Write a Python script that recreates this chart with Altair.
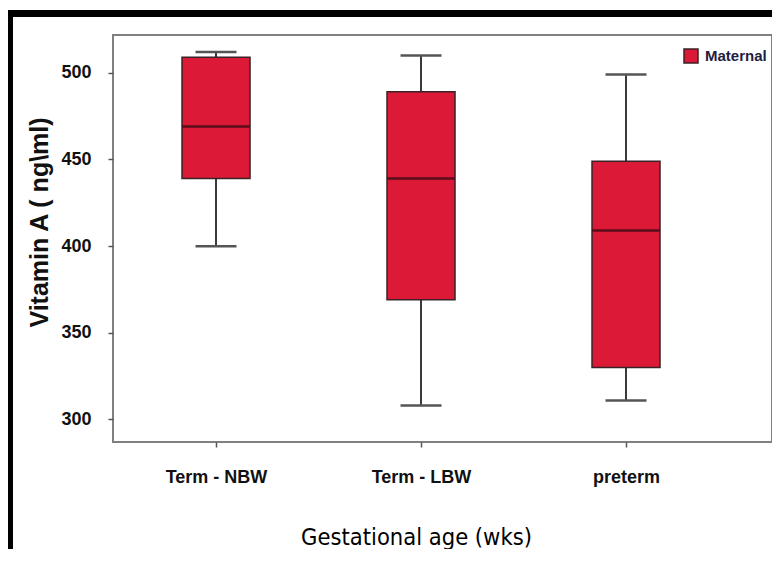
import altair as alt
import pandas as pd

categories = ["Term - NBW", "Term - LBW", "preterm"]
lows = [400, 308, 311]
q1s = [439, 369, 330]
medians = [469, 439, 409]
q3s = [509, 489, 449]
highs = [512, 510, 499]
series = ["Maternal", "Maternal", "Maternal"]
y_ticks = [300, 350, 400, 450, 500]

df = pd.DataFrame({
    "cat": categories, "low": lows, "q1": q1s, "med": medians,
    "q3": q3s, "high": highs, "group": series,
})

RED = "#dc1a38"
ARIAL = "Liberation Sans, Arial, sans-serif"
NARROW = "DejaVu Sans Condensed, Liberation Sans, sans-serif"

xs = alt.Scale(type="point", domain=categories, padding=0.6073, align=0.4137)
ys = alt.Scale(domain=[287, 521.8], nice=False, zero=False)

x_enc = alt.X("cat:N", scale=xs, sort=categories, axis=alt.Axis(
    title="Gestational age (wks)", labelAngle=0, labelFont=ARIAL, labelFontSize=18,
    labelFontWeight="bold", labelColor="#111", labelPadding=21, labelBaseline="top",
    ticks=True, tickSize=5, tickColor="#555", tickWidth=1.5, domain=False, grid=False,
    titleFont=NARROW, titleFontSize=23.5, titleFontWeight="normal", titleColor="#000",
    titleX=303, titleY=102, titleAlign="center", titleBaseline="alphabetic"))

y_axis = alt.Axis(
    title="Vitamin A ( ng\\ml)", values=y_ticks, labelFont=ARIAL, labelFontSize=18,
    labelFontWeight="bold", labelColor="#111", labelPadding=17, tickSize=5,
    tickColor="#555", tickWidth=1.5, domain=False, grid=False,
    titleFont=ARIAL, titleFontSize=25, titleFontWeight="bold", titleColor="#111",
    titleAngle=270, titleX=-74, titleY=187, titleAlign="center", titleBaseline="middle")

base = alt.Chart(df)

whisk_lo = base.mark_rule(color="#3a3a3a", strokeWidth=2).encode(
    x=x_enc, y=alt.Y("low:Q", scale=ys, axis=y_axis), y2="q1:Q")
whisk_hi = base.mark_rule(color="#3a3a3a", strokeWidth=2).encode(
    x=alt.X("cat:N", scale=xs, sort=categories), y=alt.Y("q3:Q", scale=ys), y2="high:Q")
boxes = base.mark_bar(width=68, stroke="#3a2226", strokeWidth=1.5, opacity=1).encode(
    x=alt.X("cat:N", scale=xs, sort=categories), y=alt.Y("q1:Q", scale=ys), y2="q3:Q",
    color=alt.Color("group:N", scale=alt.Scale(domain=["Maternal"], range=[RED]),
                    legend=alt.Legend(title=None, orient="none", legendX=570, legendY=13,
                                      padding=0, symbolType="square", symbolSize=196,
                                      symbolStrokeColor="#3a2226", symbolStrokeWidth=1.5,
                                      symbolOpacity=1, labelFont=ARIAL, labelFontSize=15,
                                      labelFontWeight="bold", labelColor="#1f2040",
                                      labelOffset=6)))
meds = base.mark_tick(size=68, thickness=2.5, color="#5a0d1a", opacity=1).encode(
    x=alt.X("cat:N", scale=xs, sort=categories), y=alt.Y("med:Q", scale=ys))
cap_lo = base.mark_tick(size=41, thickness=2.5, color="#555", opacity=1).encode(
    x=alt.X("cat:N", scale=xs, sort=categories), y=alt.Y("low:Q", scale=ys))
cap_hi = base.mark_tick(size=41, thickness=2.5, color="#555", opacity=1).encode(
    x=alt.X("cat:N", scale=xs, sort=categories), y=alt.Y("high:Q", scale=ys))

frame_df = pd.DataFrame({"k": [0]})
top_band = alt.Chart(frame_df).mark_rule(color="#000", strokeWidth=7).encode(
    x=alt.value(-106), x2=alt.value(662), y=alt.value(-21.5))
left_band = alt.Chart(frame_df).mark_rule(color="#000", strokeWidth=7).encode(
    x=alt.value(-103.5), y=alt.value(-25), y2=alt.value(520))

chart = alt.layer(whisk_lo, whisk_hi, boxes, meds, cap_lo, cap_hi, top_band, left_band).properties(
    width=659, height=407,
    autosize=alt.AutoSizeParams(type="none"),
    padding={"left": 105, "top": 27, "right": 0, "bottom": 107},
    background="white",
).configure_view(stroke="#808080", strokeWidth=2)

chart.save("out.html", embed_options={"renderer": "svg", "actions": False})
